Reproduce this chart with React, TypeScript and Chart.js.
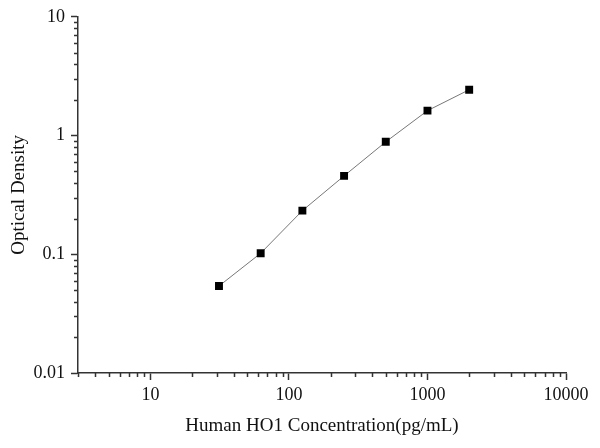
import { useEffect, useRef } from 'react';
import { Chart, registerables } from 'chart.js';

Chart.register(...registerables);

// standard curve, concentration (pg/mL) vs OD
const concentrations = [31.25, 62.5, 125, 250, 500, 1000, 2000];
const opticalDensity = [0.054, 0.102, 0.233, 0.457, 0.885, 1.62, 2.43];

const xMajorTicks = [10, 100, 1000, 10000];
const yMajorTicks = [0.01, 0.1, 1, 10];

const X_MIN = 3, X_MAX = 10000;
const Y_MIN = 0.01, Y_MAX = 10;

const FONT = "'Liberation Serif', 'Times New Roman', serif";
const INK = '#333';

const isMajor = (v: number) => Math.abs(Math.log10(v) - Math.round(Math.log10(v))) < 1e-9;

// 1..9 x 10^n inside [min, max]
function logTicks(min: number, max: number) {
  const out: { value: number; major: boolean }[] = [];
  for (let e = Math.floor(Math.log10(min)); e <= Math.ceil(Math.log10(max)); e++) {
    for (let k = 1; k < 10; k++) {
      const v = +(k * Math.pow(10, e)).toPrecision(6);
      if (v >= min - 1e-12 && v <= max + 1e-12) out.push({ value: v, major: isMajor(v) });
    }
  }
  return out;
}

const minorTicks = {
  id: 'minorTicks',
  afterDraw(chart: Chart) {
    const { ctx } = chart;
    const xs = chart.scales.x, ys = chart.scales.y;
    ctx.save();
    ctx.strokeStyle = INK;
    ctx.lineWidth = 1.5;
    ctx.beginPath();
    for (const t of xs.ticks) {
      if (isMajor(t.value)) continue;
      const px = Math.round(xs.getPixelForValue(t.value)) + 0.5;
      ctx.moveTo(px, ys.bottom);
      ctx.lineTo(px, ys.bottom + 4);
    }
    for (const t of ys.ticks) {
      if (isMajor(t.value)) continue;
      const py = Math.round(ys.getPixelForValue(t.value)) + 0.5;
      ctx.moveTo(xs.left, py);
      ctx.lineTo(xs.left - 4, py);
    }
    ctx.stroke();
    ctx.restore();
  },
};

function StandardCurve() {
  const ref = useRef<HTMLCanvasElement>(null);

  useEffect(() => {
    if (!ref.current) return;
    const tickFont = { family: FONT, size: 18 };
    const titleFont = { family: FONT, size: 19 };
    const label = (majors: number[]) => (v: number | string) => {
      const n = Number(v);
      return majors.some(m => Math.abs(m - n) / m < 1e-9) ? String(n) : '';
    };

    const chart = new Chart(ref.current, {
      type: 'line',
      data: {
        datasets: [{
          data: concentrations.map((c, i) => ({ x: c, y: opticalDensity[i] })),
          borderColor: '#777',
          borderWidth: 1,
          pointStyle: 'rect',
          pointRadius: 5.6,
          pointBackgroundColor: '#000',
          pointBorderColor: '#000',
          pointBorderWidth: 0,
          tension: 0,
        }],
      },
      options: {
        responsive: false,
        animation: false,
        plugins: { legend: { display: false }, tooltip: { enabled: false } },
        layout: { padding: { top: 14, right: 34, left: 0, bottom: 0 } },
        scales: {
          x: {
            type: 'logarithmic',
            min: X_MIN, max: X_MAX,
            afterBuildTicks: s => { s.ticks = logTicks(X_MIN, X_MAX); },
            afterFit: s => { s.height = 75; },
            border: { display: true, color: INK, width: 1.5 },
            grid: {
              display: true, drawOnChartArea: false, drawTicks: true, tickLength: 7,
              tickWidth: 1.5,
              tickColor: c => (c.tick && isMajor(c.tick.value) ? INK : 'rgba(0,0,0,0)'),
            },
            ticks: {
              autoSkip: false, maxRotation: 0, padding: 4, color: '#111', font: tickFont,
              callback: label(xMajorTicks),
            },
            title: {
              display: true, text: 'Human HO1 Concentration(pg/mL)', color: '#111',
              font: titleFont, padding: { top: 0, bottom: 11 },
            },
          },
          y: {
            type: 'logarithmic',
            min: Y_MIN, max: Y_MAX,
            afterBuildTicks: s => { s.ticks = logTicks(Y_MIN, Y_MAX); },
            afterFit: s => { s.width = 78; },
            border: { display: true, color: INK, width: 1.5 },
            grid: {
              display: true, drawOnChartArea: false, drawTicks: true, tickLength: 7,
              tickWidth: 1.5,
              tickColor: c => (c.tick && isMajor(c.tick.value) ? INK : 'rgba(0,0,0,0)'),
            },
            ticks: {
              autoSkip: false, padding: 6, color: '#111', font: tickFont,
              callback: label(yMajorTicks),
            },
            title: {
              display: true, text: 'Optical Density', color: '#111',
              font: titleFont, padding: { top: 8, bottom: 0 },
            },
          },
        },
      },
      plugins: [minorTicks],
    });
    return () => { chart.destroy(); };
  }, []);

  return <canvas ref={ref} width={600} height={448} />;
}

export default function App() {
  return (
    <div style={{ position: 'fixed', left: 0, top: 0, width: 600, height: 448, background: '#fff' }}>
      <StandardCurve />
    </div>
  );
}
